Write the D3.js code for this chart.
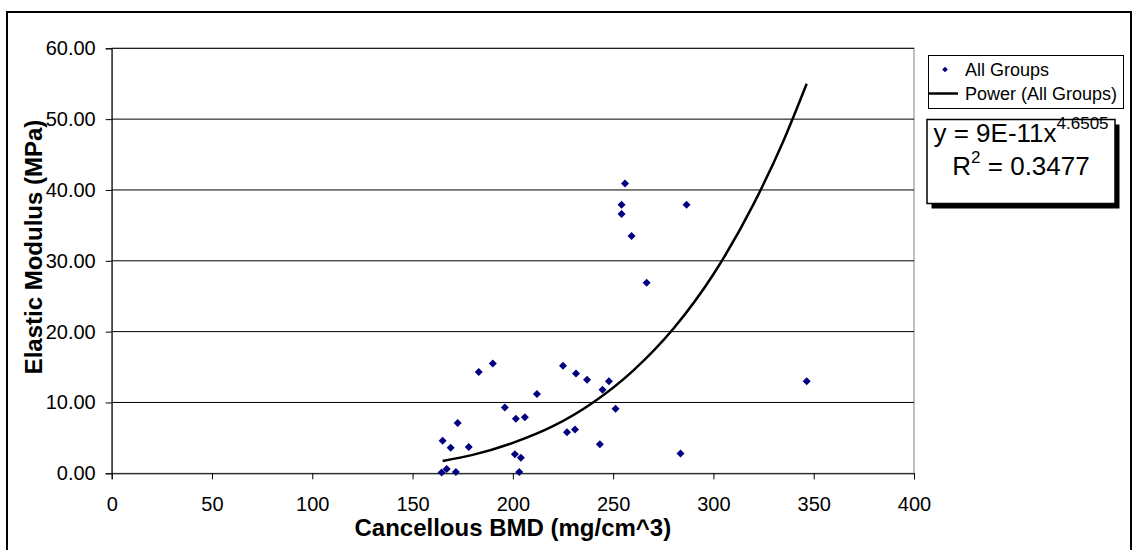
<!DOCTYPE html>
<html>
<head>
<meta charset="utf-8">
<script src="https://cdn.jsdelivr.net/npm/d3@7"></script>
<style>
  body { margin: 0; background: #fff; }
  svg text { font-family: Arial, "Liberation Sans", sans-serif; }
</style>
</head>
<body>
<svg id="chart" width="1138" height="550"></svg>
<script>
// data
const bmd = [164.5, 165, 167, 169, 171.6, 172.5, 178, 183, 190, 196, 201, 201.5, 203.2, 204, 206, 212,
             225, 227, 231, 231.5, 237, 243.4, 244.7, 247.9, 251.2, 254.2, 254.2, 255.9, 259.2, 266.7,
             283.6, 286.6, 346.5];
const modulus = [0.1, 4.6, 0.6, 3.6, 0.2, 7.1, 3.7, 14.3, 15.5, 9.3, 2.7, 7.7, 0.2, 2.2, 7.9, 11.2,
                 15.2, 5.8, 6.2, 14.1, 13.2, 4.1, 11.8, 13.0, 9.1, 37.9, 36.6, 40.9, 33.5, 26.9,
                 2.8, 37.9, 13.0];

// power trendline, points
const trendX = [165, 180, 200, 220, 240, 260, 280, 300, 320, 335, 346.5];
const trendY = [1.75, 2.6, 4.3, 6.65, 10.0, 14.5, 20.4, 28.1, 38.0, 47.0, 55.0];

const xTicks = [0, 50, 100, 150, 200, 250, 300, 350, 400];
const yTicks = [0, 10, 20, 30, 40, 50, 60];

const seriesName = "All Groups";
const trendName = "Power (All Groups)";
const eqCoef = "9E-11";
const eqExp = "4.6505";
const r2 = "0.3477";

const svg = d3.select("#chart");

// outer chart frame
svg.append("rect")
  .attr("x", 7).attr("y", 12)
  .attr("width", 1124).attr("height", 545)
  .attr("fill", "none")
  .attr("stroke", "#000")
  .attr("stroke-width", 2);

const x = d3.scaleLinear().domain([0, 400]).range([111.7, 914]);
const y = d3.scaleLinear().domain([0, 60]).range([473.3, 48.3]);

// plot area border (grey, Excel style)
svg.append("rect")
  .attr("x", x(0)).attr("y", y(60))
  .attr("width", x(400) - x(0)).attr("height", y(0) - y(60))
  .attr("fill", "none")
  .attr("stroke", "#808080")
  .attr("stroke-width", 1);

// horizontal gridlines
svg.append("g")
  .selectAll("line")
  .data(yTicks.filter(d => d > 0))
  .enter().append("line")
  .attr("x1", x(0)).attr("x2", x(400))
  .attr("y1", d => y(d)).attr("y2", d => y(d))
  .attr("stroke", "#000")
  .attr("stroke-width", 1);

// Y axis
const yAxis = svg.append("g")
  .attr("transform", "translate(" + x(0) + ",0)")
  .call(d3.axisLeft(y).tickValues(yTicks).tickSize(6).tickPadding(10).tickFormat(d3.format(".2f")));
yAxis.select(".domain").attr("stroke", "#000");
yAxis.selectAll("text")
  .attr("font-size", "20px")
  .attr("fill", "#000")
  .attr("font-family", "Arial, 'Liberation Sans', sans-serif");

// X axis
const xAxis = svg.append("g")
  .attr("transform", "translate(0," + y(0) + ")")
  .call(d3.axisBottom(x).tickValues(xTicks).tickSize(6).tickPadding(18));
xAxis.select(".domain").attr("stroke", "#000");
xAxis.selectAll("text")
  .attr("font-size", "20px")
  .attr("fill", "#000")
  .attr("font-family", "Arial, 'Liberation Sans', sans-serif");

// axis titles
svg.append("text")
  .attr("x", (x(0) + x(400)) / 2)
  .attr("y", 536)
  .attr("text-anchor", "middle")
  .attr("font-size", "24px")
  .attr("font-weight", "bold")
  .text("Cancellous BMD (mg/cm^3)");

svg.append("text")
  .attr("transform", "translate(42,247) rotate(-90)")
  .attr("text-anchor", "middle")
  .attr("font-size", "24px")
  .attr("font-weight", "bold")
  .text("Elastic Modulus (MPa)");

// trendline
const trend = trendX.map((d, i) => [d, trendY[i]]);
svg.append("path")
  .datum(trend)
  .attr("fill", "none")
  .attr("stroke", "#000")
  .attr("stroke-width", 2.5)
  .attr("d", d3.line().x(d => x(d[0])).y(d => y(d[1])).curve(d3.curveMonotoneX));

// points
const diamond = d3.symbol().type(d3.symbolSquare).size(32);
const pts = bmd.map((d, i) => [d, modulus[i]]);
svg.append("g")
  .selectAll("path")
  .data(pts)
  .enter().append("path")
  .attr("d", diamond)
  .attr("transform", d => "translate(" + x(d[0]) + "," + y(d[1]) + ") rotate(45)")
  .attr("fill", "#000080");

// legend
const lg = svg.append("g");
lg.append("rect")
  .attr("x", 928.5).attr("y", 55.5)
  .attr("width", 195).attr("height", 53)
  .attr("fill", "#fff")
  .attr("stroke", "#000")
  .attr("stroke-width", 1);
lg.append("path")
  .attr("d", d3.symbol().type(d3.symbolSquare).size(16))
  .attr("transform", "translate(945,69.5) rotate(45)")
  .attr("fill", "#000080");
lg.append("text")
  .attr("x", 965).attr("y", 69.5)
  .attr("dominant-baseline", "central")
  .attr("font-size", "18px")
  .text(seriesName);
lg.append("line")
  .attr("x1", 929).attr("x2", 958)
  .attr("y1", 93.5).attr("y2", 93.5)
  .attr("stroke", "#000")
  .attr("stroke-width", 2.5);
lg.append("text")
  .attr("x", 965).attr("y", 93.5)
  .attr("dominant-baseline", "central")
  .attr("font-size", "18px")
  .text(trendName);

// equation box with shadow
const eq = svg.append("g");
eq.append("rect")
  .attr("x", 931.5).attr("y", 124.5)
  .attr("width", 188).attr("height", 84)
  .attr("fill", "#000");
eq.append("rect")
  .attr("x", 927).attr("y", 119.5)
  .attr("width", 188).attr("height", 84)
  .attr("fill", "#fff")
  .attr("stroke", "#000")
  .attr("stroke-width", 1.5);

const l1 = eq.append("text")
  .attr("x", 1021).attr("y", 142)
  .attr("text-anchor", "middle")
  .attr("font-size", "26px");
l1.append("tspan").text("y = " + eqCoef + "x");
l1.append("tspan").attr("font-size", "17px").attr("dy", -13).text(eqExp);

const l2 = eq.append("text")
  .attr("x", 1021).attr("y", 175)
  .attr("text-anchor", "middle")
  .attr("font-size", "26px");
l2.append("tspan").text("R");
l2.append("tspan").attr("font-size", "17px").attr("dy", -12).text("2");
l2.append("tspan").attr("dy", 12).text(" = " + r2);
</script>
</body>
</html>
